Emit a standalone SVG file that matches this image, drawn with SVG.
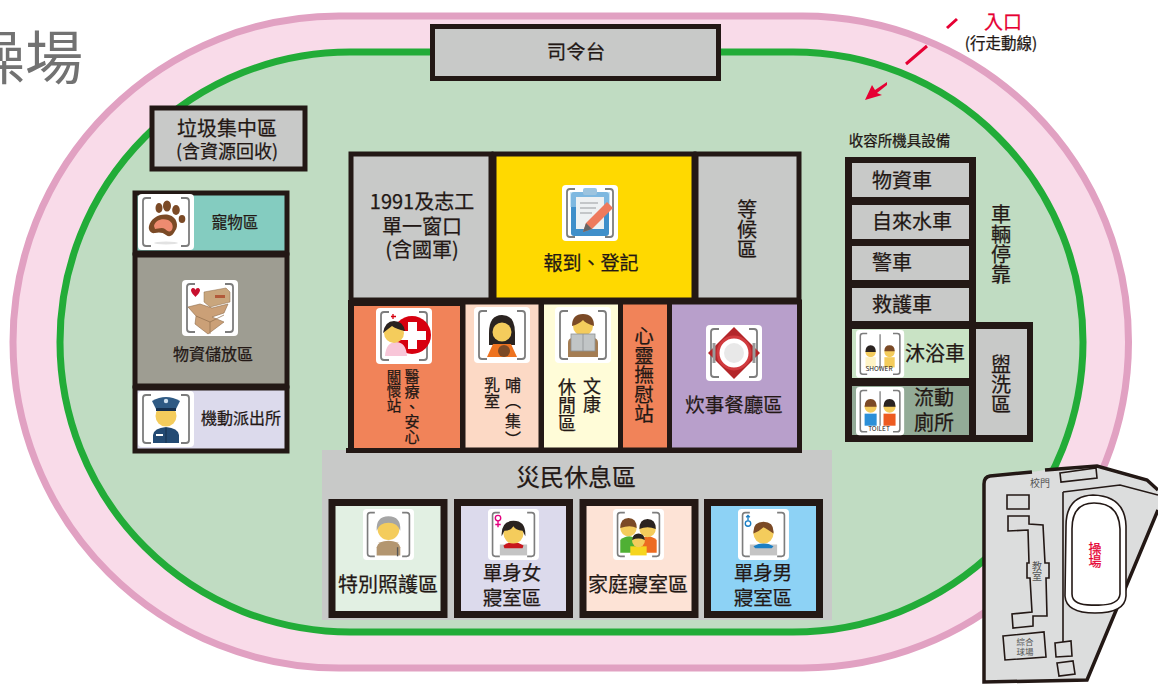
<svg xmlns="http://www.w3.org/2000/svg" xmlns:xlink="http://www.w3.org/1999/xlink" width="1158" height="684" viewBox="0 0 1158 684">
<style>
text{font-family:"Noto Sans CJK TC","Noto Sans",sans-serif;fill:#231815;stroke:#231815;stroke-width:.25;text-anchor:middle;text-spacing-trim:space-all}
.v{writing-mode:vertical-rl;text-anchor:start}
.s{text-anchor:start}
.box{stroke:#231815;stroke-width:5}
.g{fill:#c8c9c8}
.map{fill:none;stroke:#231815;stroke-width:1.6}
.skin{fill:#f4cc5c}
.hair{fill:#2a2320}
.brown{fill:#7b4a26}
.red{fill:#e60033;stroke:#e60033}
.m{fill:#555;stroke:none}
</style>
<defs>
<g id="frame">
<rect width="56" height="56" rx="4" fill="#fff"/>
<path d="M13 4H8Q5 4 5 7V49Q5 52 8 52H13M43 4H48Q51 4 51 7V49Q51 52 48 52H43" fill="none" stroke="#7d7d7d" stroke-width="1.800"/>
</g>
</defs>
<rect width="1158" height="684" fill="#fff"/>
<g id="track">
<rect x="13" y="16" width="1115.500" height="652" rx="326" ry="326" fill="#f9dbe9" stroke="#e1a1c2" stroke-width="7"/>
<rect x="60" y="52" width="1023" height="580" rx="290" ry="290" fill="#c0dcc2" stroke="#22ac38" stroke-width="7"/>
</g>
<text id="title" x="-33" y="79" class="s" font-size="58" style="fill:#727272;stroke:none">操場</text>

<g id="stage"><rect class="g box" x="432.500" y="26.500" width="286" height="52"/><text x="576" y="59" font-size="19.500">司令台</text></g>
<g id="garbage"><rect class="g box" x="152" y="108" width="153" height="61"/><text x="227" y="136" font-size="20">垃圾集中區</text><text x="227" y="158" font-size="18">(含資源回收)</text></g>

<g id="pet">
<rect x="135" y="193" width="152" height="60" fill="#84ccc0" class="box"/>
<use xlink:href="#frame" href="#frame" x="138" y="194"/>
<g transform="translate(138,194)" class="brown"><ellipse cx="28" cy="49" rx="12" ry="1.500" fill="#e2e2e2"/><ellipse cx="21" cy="14" rx="3.500" ry="5"/><ellipse cx="29" cy="12" rx="4" ry="5.500"/><ellipse cx="38" cy="16" rx="3.800" ry="5"/><ellipse cx="44" cy="25" rx="3.300" ry="4"/><path d="M11 32C13 24 22 19 31 21C39 23 41 32 37 37C35 41 32 44 28 41C25 38 20 38 17 39C13 40 10 36 11 32Z"/><path d="M16 32C17 27 23 24 30 26C35 28 36 34 33 37C31 38 29 37 27 35C24 33 20 35 17 35Z" fill="#ee8b70"/></g>
<text x="235" y="228" font-size="15.500">寵物區</text>
</g>
<g id="storage">
<rect x="135" y="255" width="152" height="131" fill="#9e9d92" class="box"/>
<use xlink:href="#frame" href="#frame" x="182" y="280"/>
<g transform="translate(182,280)"><path d="M22 12L44 8L48 12V22L28 27L22 22Z" fill="#c9a67d" stroke="#8f6d4b" stroke-width=".5"/><rect x="33" y="15" width="10" height="3" fill="#b25a3a"/><path d="M6 27L18 24L30 28L46 24L42 33L30 37L42 42L26 54L13 44L14 36Z" fill="#cba077" stroke="#8f6d4b" stroke-width=".6"/><path d="M14 36L28 42L42 35M28 42V54" fill="none" stroke="#8f6d4b" stroke-width=".7"/><path d="M9 10C10 7 13 8 13.500 10C14 8 17 7 18 10C18 13 15 15 13.500 17C12 15 9 13 9 10Z" fill="#c8102e"/></g>
<text x="213" y="360" font-size="16">物資儲放區</text>
</g>
<g id="police">
<rect x="135" y="388" width="152" height="63" fill="#dcdaec" class="box"/>
<use xlink:href="#frame" href="#frame" x="138" y="391"/>
<g transform="translate(138,391)"><path d="M15 52V44Q16 37 28 36Q40 37 41 44V52Z" fill="#234a73"/><rect x="18" y="43" width="7" height="2" fill="#fff"/><path d="M28 37V52" stroke="#16304f"/><circle class="skin" cx="28" cy="25" r="10.500"/><path d="M14 10Q28 2 42 10L38 18H18Z" fill="#2f5a84"/><rect x="18" y="17" width="20" height="3" fill="#16304f"/><circle cx="28" cy="10" r="2.200" fill="#cfe0ee"/></g>
<text x="241" y="424" font-size="16">機動派出所</text>
</g>

<g id="center-top">
<rect x="351" y="154" width="140" height="146" class="g box"/>
<rect x="494" y="154" width="200" height="146" fill="#ffd900" class="box"/>
<rect x="696" y="154" width="103" height="146" class="g box"/>
</g>
<g id="window"><text x="422" y="209" font-size="20">1991及志工</text><text x="422" y="234" font-size="20">單一窗口</text><text x="422" y="257" font-size="20">(含國軍)</text></g>
<g id="register">
<use xlink:href="#frame" href="#frame" x="562" y="185"/>
<g transform="translate(562,185)"><rect x="9" y="7" width="38" height="44" rx="3" fill="#3f8fca"/><rect x="8" y="7" width="40" height="15" fill="#a9d3ee" opacity=".6"/><rect x="14" y="12" width="28" height="32" fill="#eef1f2"/><rect x="21" y="3" width="14" height="7" rx="2" fill="#9cc4df"/><path d="M18 18H36M18 23H34M18 28H30" stroke="#b5b8ba" stroke-width="1.500"/><path d="M45 17L51 23L30 44L21 47L24 38Z" fill="#ee7a5d"/><path d="M24 38L30 44L21 47Z" fill="#666"/></g>
<text x="591" y="270" font-size="19">報到、登記</text>
</g>
<g id="waiting"><text class="v" x="747" y="199" font-size="20">等候區</text></g>

<g id="medical">
<rect x="351" y="303" width="112" height="148" fill="#f18359" stroke="#231815" stroke-width="6"/>
<use xlink:href="#frame" href="#frame" x="376" y="308"/>
<g transform="translate(376,308)"><circle cx="36" cy="27" r="19" fill="#d7000f"/><path d="M32 14H41V23H50V32H41V41H32V32H23V23H32Z" fill="#fff"/><path d="M9 48Q10 34 20 34Q30 34 31 48Z" fill="#f8c6d8"/><circle class="skin" cx="18" cy="25" r="10"/><path d="M7 25Q9 13 18 13Q27 13 29 23Q20 21 16 18Q12 21 7 25Z" class="hair"/><path d="M17 6V11M15 8.500H20" stroke="#d7000f" stroke-width="1.300"/></g>
<text class="v" x="412" y="369" font-size="15">醫療、安心</text><text class="v" x="394" y="369" font-size="14.500">關懷站</text>
</g>
<g id="nursing">
<rect x="463" y="302" width="78" height="148" fill="#fcd9c5" class="box"/>
<use xlink:href="#frame" href="#frame" x="474" y="307"/>
<g transform="translate(474,307)"><path d="M15 26Q15 8 28 8Q41 8 41 26V38H15Z" class="hair"/><circle class="skin" cx="28" cy="25" r="9.500"/><path d="M13 50L19 37H37L43 50Z" fill="#ee7320"/><circle cx="30" cy="44" r="6" fill="#7b4a26"/></g>
<text class="v" x="492" y="377" font-size="16">乳室</text><text class="v" x="513" y="377 393 413 431" font-size="16">哺（集）</text>
</g>
<g id="culture">
<rect x="541.500" y="302" width="79" height="148" fill="#fffcd8" class="box"/>
<use xlink:href="#frame" href="#frame" x="555" y="307"/>
<g transform="translate(555,307)"><circle class="skin" cx="28" cy="19" r="10"/><path d="M17 19Q17 7 28 7Q39 7 39 19Q30 16 28 13Q24 17 17 19Z" class="brown"/><path d="M13 50V36Q13 31 18 31H38Q43 31 43 36V50Z" fill="#a47d53"/><rect x="16" y="27" width="24" height="17" fill="#c1c5c6" stroke="#8d9192" stroke-width=".8"/><path d="M28 27V44" stroke="#8d9192" stroke-width=".8"/></g>
<text class="v" x="592" y="377" font-size="18">文康</text><text class="v" x="567" y="378" font-size="18">休閒區</text>
</g>
<g id="care">
<rect x="620.500" y="302" width="49" height="148" fill="#f18359" class="box"/>
<text class="v" x="644" y="326" font-size="19.500">心靈撫慰站</text>
</g>
<g id="kitchen">
<rect x="669.500" y="302" width="130" height="148" fill="#b89fcb" class="box"/>
<use xlink:href="#frame" href="#frame" x="706" y="325"/>
<g transform="translate(706,325)"><path d="M28 2L54 28L28 54L2 28Z" fill="#b3262a"/><path d="M8 18V38M48 18V38" stroke="#9a9a9a" stroke-width="3"/><circle cx="28" cy="28" r="16" fill="#fff" stroke="#d13b3f" stroke-width="3"/><circle cx="28" cy="28" r="10" fill="#e8e8e8"/></g>
<text x="734" y="412" font-size="19.500">炊事餐廳區</text>
</g>

<g id="rest-area">
<rect x="322" y="450" width="510" height="170" class="g"/>
<path d="M346 450.500H802" stroke="#231815" stroke-width="5"/>
<text x="576" y="486" font-size="24">災民休息區</text>
</g>
<g id="elder">
<rect x="332" y="502.500" width="112" height="112" fill="#e2f0e3" stroke="#231815" stroke-width="7"/>
<g transform="translate(363,509) scale(.91)"><use xlink:href="#frame" href="#frame"/><path d="M15 51V42Q17 35 28 35Q39 35 41 42V51Z" fill="#b39670"/><circle class="skin" cx="28" cy="22" r="12"/><path d="M15 24Q14 8 28 8Q42 8 41 24Q38 15 28 15Q18 15 15 24Z" fill="#a5a5a5"/><path d="M38 42V52" stroke="#555" stroke-width="1.500"/></g>
<text x="388" y="592" font-size="20">特別照護區</text>
</g>
<g id="female">
<rect x="457.500" y="502.500" width="112" height="112" fill="#dcdaec" stroke="#231815" stroke-width="7"/>
<g transform="translate(488,509) scale(.91)"><use xlink:href="#frame" href="#frame"/><rect x="13" y="39" width="30" height="12" fill="#c4c4c4"/><path d="M17 40Q28 33 39 40L38 43H18Z" fill="#c8161d"/><circle class="skin" cx="28" cy="27" r="11"/><path d="M15 30Q14 13 28 13Q42 13 41 30L38 24Q30 23 28 19Q25 24 18 24Z" class="hair"/><circle cx="11" cy="10" r="3" fill="none" stroke="#e4007f" stroke-width="1.500"/><path d="M11 13V20M8 17H14" stroke="#e4007f" stroke-width="1.500"/></g>
<text x="512" y="580" font-size="19.500">單身女</text><text x="512" y="605" font-size="19.500">寢室區</text>
</g>
<g id="family">
<rect x="583" y="502.500" width="112" height="112" fill="#fde3d6" stroke="#231815" stroke-width="7"/>
<g transform="translate(613,509) scale(.91)"><use xlink:href="#frame" href="#frame"/><path d="M8 48V34Q18 26 26 34V48Z" fill="#4fb034"/><path d="M30 48V34Q38 26 48 34V48Z" fill="#ed6b21"/><circle class="skin" cx="17" cy="21" r="9"/><path d="M8 21Q8 10 17 10Q26 10 26 21Q19 17 8 21Z" class="brown"/><circle class="skin" cx="38" cy="22" r="9"/><path d="M29 22Q29 11 38 11Q47 11 47 22Q38 18 29 22Z" class="hair"/><path d="M19 51V41H37V51Z" fill="#f6d51e"/><circle class="skin" cx="28" cy="35" r="7"/><path d="M21 34Q22 27 28 27Q34 27 35 34Q28 31 21 34Z" class="hair"/></g>
<text x="638" y="592" font-size="20">家庭寢室區</text>
</g>
<g id="male">
<rect x="707.500" y="502.500" width="112" height="112" fill="#8dd2f5" stroke="#231815" stroke-width="7"/>
<g transform="translate(738,509) scale(.91)"><use xlink:href="#frame" href="#frame"/><rect x="13" y="39" width="30" height="12" fill="#c4c4c4"/><path d="M17 41Q28 34 39 41L37 43H19Z" fill="#1b7fc4"/><circle class="skin" cx="28" cy="27" r="11"/><path d="M17 27Q16 14 28 14Q40 14 39 27Q32 22 28 20Q24 24 17 27Z" class="brown"/><circle cx="11" cy="16" r="3" fill="none" stroke="#1b7fc4" stroke-width="1.500"/><path d="M11 13V7M9 9L11 7L13 9" fill="none" stroke="#1b7fc4" stroke-width="1.500"/></g>
<text x="763" y="580" font-size="19.500">單身男</text><text x="763" y="605" font-size="19.500">寢室區</text>
</g>

<text id="equip" x="899.500" y="146" font-size="14.500">收容所機具設備</text>
<g id="vehicles">
<rect x="845" y="157" width="131" height="285" fill="#231815"/>
<rect x="976" y="322" width="57" height="120" fill="#231815"/>
<rect x="852" y="163" width="117" height="34" class="g"/><text x="872" y="188" class="s" font-size="20">物資車</text>
<rect x="852" y="205" width="117" height="34" class="g"/><text x="872" y="229" class="s" font-size="20">自來水車</text>
<rect x="852" y="246" width="117" height="34" class="g"/><text x="872" y="270" class="s" font-size="20">警車</text>
<rect x="852" y="288" width="117" height="33" class="g"/><text x="872" y="312" class="s" font-size="20">救護車</text>
</g>
<g id="shower">
<rect x="852" y="329" width="117" height="49" fill="#c9e3c5"/>
<g transform="translate(856,330) scale(.86,.85)"><use xlink:href="#frame" href="#frame"/><path d="M28 5V45" stroke="#7d7d7d" stroke-width="1.500"/><circle class="skin" cx="17" cy="26" r="6"/><path d="M11 26Q11 18 17 18Q23 18 23 26Z" class="hair"/><rect x="11" y="32" width="12" height="12" fill="#fff4c6"/><circle class="skin" cx="39" cy="26" r="6"/><path d="M33 25Q33 18 39 18Q45 18 45 25Z" class="brown"/><rect x="33" y="32" width="12" height="12" fill="#f4cc5c"/></g>
<text x="879" y="371" font-size="6.500" style="stroke:none">SHOWER</text>
<text x="935" y="361" font-size="20">沐浴車</text>
</g>
<g id="toilet">
<rect x="852" y="386" width="117" height="49" fill="#93ab97"/>
<g transform="translate(856,387) scale(.86,.86)"><use xlink:href="#frame" href="#frame"/><path d="M28 5V45" stroke="#7d7d7d" stroke-width="1.500"/><circle class="skin" cx="17" cy="23" r="7"/><path d="M10 23Q10 14 17 14Q24 14 24 23Z" class="brown"/><rect x="10" y="31" width="14" height="14" fill="#2b8fd8"/><circle class="skin" cx="39" cy="23" r="7"/><path d="M32 23Q32 14 39 14Q46 14 46 23Z" class="hair"/><rect x="32" y="31" width="14" height="14" fill="#ed5b21"/></g>
<text x="879" y="431" font-size="6.500" style="stroke:none">TOILET</text>
<text x="934" y="405" font-size="20">流動</text><text x="934" y="430" font-size="20">廁所</text>
</g>
<g id="wash"><rect x="976" y="329" width="51" height="106" class="g"/><text class="v" x="1001" y="354" font-size="20">盥洗區</text></g>
<text id="park" class="v" x="1001" y="204" font-size="20">車輛停靠</text>

<g id="connectors">
<path d="M947 28L957 19M906 64L927 46" stroke="#e60033" stroke-width="3" fill="none"/>
<path d="M865 100L872 85L875 90L887 82L887 85L877 93L882 95Z" fill="#e60033"/>
</g>
<g id="entrance"><text x="1003" y="29" font-size="19" class="red">入口</text><text x="1001" y="49" font-size="15.500">(行走動線)</text></g>

<g id="map">
<path d="M1032 472L990 476Q984 477 984 484V682L1087 680L1158 510V490L1147 480L1097 466L1045 470Z" fill="#dcdddd"/>
<path d="M1032 472L990 476Q984 477 984 484V682L1087 680L1158 510M1158 490L1147 480L1097 466L1045 470" fill="none" stroke="#231815" stroke-width="3.500"/>
<path class="map" d="M1060 473L1096 468 1097 478 1061 482ZM1063 492L1120 485 1158 495M1063 492V642"/>
<path d="M1066 526Q1066 496 1093 495Q1125 496 1126 526V596Q1125 613 1095 613Q1066 613 1065 596Z" fill="#fff" stroke="#231815" stroke-width="1.600"/>
<path d="M1072 529Q1072 503 1094 503Q1119 503 1120 529V594Q1119 606 1095 605Q1072 606 1072 594Z" fill="#fff" stroke="#231815" stroke-width="1.600"/>
<path class="map" d="M1007 495H1029V509H1007ZM1008 516H1029V524L1043 525L1045 563H1049V578H1046L1047 616H1033V626L1013 628L1012 614L1032 612L1030 578H1027V563H1029L1028 530L1008 531Z"/>
<path class="map" d="M1003 636L1044 632 1046 657 1005 660ZM1055 643L1071 641 1072 656 1056 657ZM1057 663L1073 661 1075 674 1059 676Z"/>
<text x="1040" y="487" font-size="10" class="m">校門</text>
<text class="v m" x="1037" y="561" font-size="10">教室</text>
<text x="1025" y="645" font-size="8.500" class="m">綜合</text><text x="1025" y="655" font-size="8.500" class="m">球場</text>
<text class="v red" x="1095" y="542" font-size="13">操場</text>
</g>
</svg>
